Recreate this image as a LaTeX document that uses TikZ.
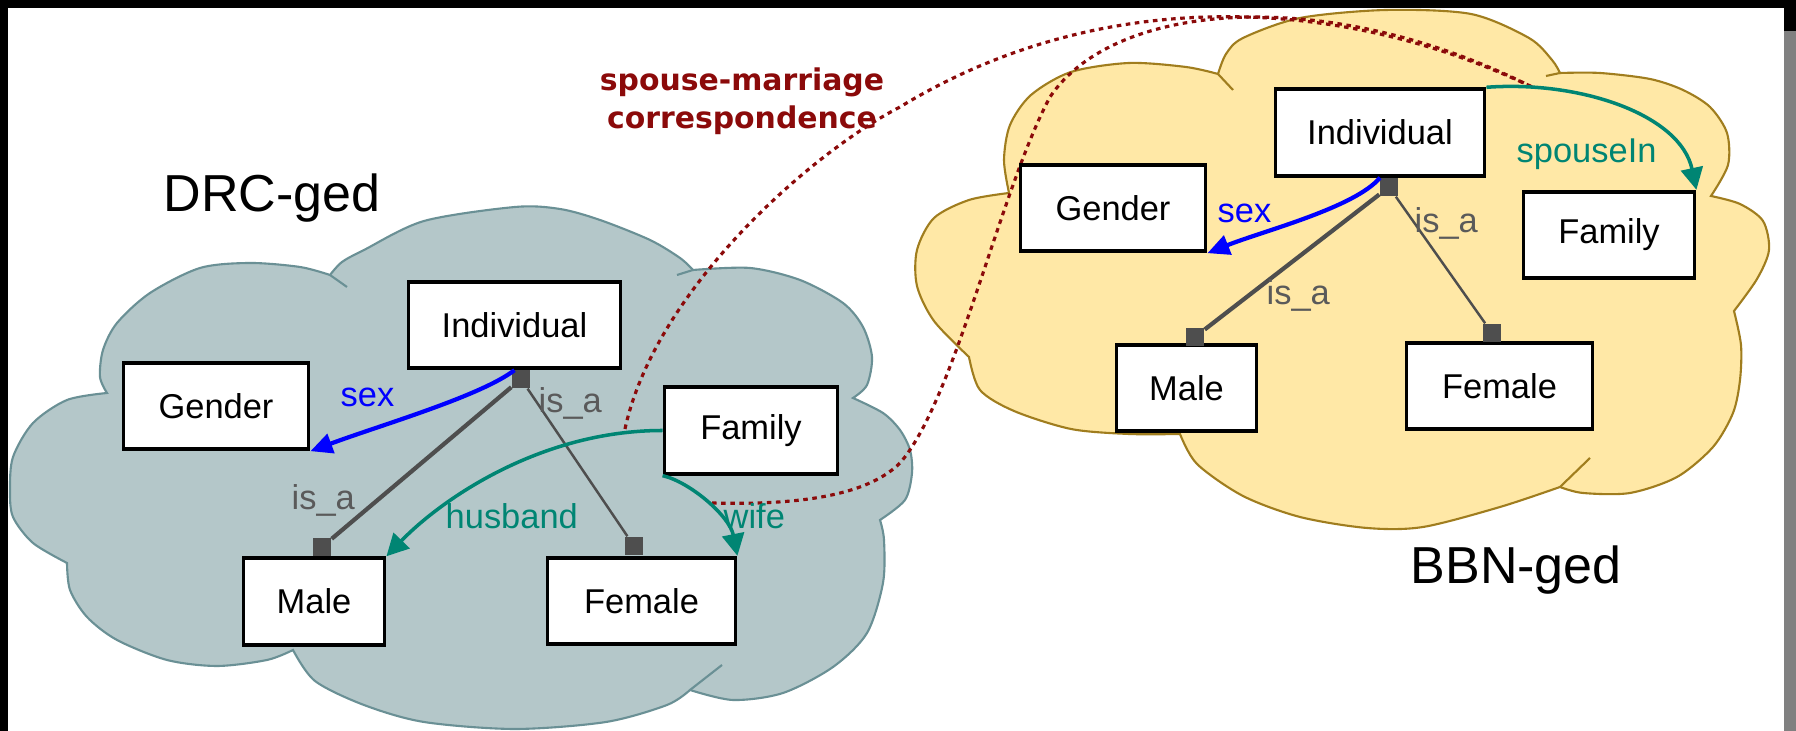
\documentclass[tikz,border=0pt]{standalone}
\usepackage{fontspec}
\setmainfont{Liberation Sans}
\newfontfamily\corrfont{DejaVu Sans}
\usetikzlibrary{arrows.meta}

\definecolor{drcfill}{HTML}{B4C7C9}
\definecolor{drcline}{HTML}{6A9095}
\definecolor{bbnfill}{HTML}{FFE8A6}
\definecolor{bbnline}{HTML}{A07D1E}
\definecolor{relteal}{HTML}{008573}
\definecolor{isagrey}{HTML}{4E4E4E}
\definecolor{labgrey}{HTML}{5A5A5A}
\definecolor{corrred}{HTML}{8B0A0A}
\definecolor{framegrey}{HTML}{808080}

\tikzset{
  cls/.style={draw=black, line width=1.1pt, fill=white, minimum height=8.65mm,
    inner sep=0pt, font=\fontsize{9.8}{12}\selectfont},
  mk/.style={fill=isagrey, minimum size=1.8mm, inner sep=0pt},
  isathick/.style={draw=isagrey, line width=1.2pt},
  isathin/.style={draw=isagrey, line width=0.7pt},
  sexarrow/.style={draw=blue, line width=1.2pt, -{Triangle[length=2.2mm,width=2mm]}},
  relarrow/.style={draw=relteal, line width=1pt, -{Triangle[length=2.2mm,width=2.2mm]}},
  corr/.style={draw=corrred, line width=0.9pt, dash pattern=on 1.3pt off 1.3pt},
  lab/.style={font=\fontsize{9.8}{12}\selectfont, inner sep=0pt, anchor=base west},
  ontotitle/.style={font=\fontsize{14.8}{18}\selectfont, inner sep=0pt, anchor=base west},
  drccloud/.style={fill=drcfill, draw=drcline, line width=0.6pt},
  bbncloud/.style={fill=bbnfill, draw=bbnline, line width=0.6pt},
}

\begin{document}
\begin{tikzpicture}[x=0.1mm, y=-0.1mm]
\useasboundingbox (0,0) rectangle (1796,731);
\fill[white] (0,0) rectangle (1796,731);

% DRC-ged ontology cloud
\path[drccloud]
  plot[smooth] coordinates {(107,393) (100,377) (103,350) (117,323) (150,293) (200,268) (250,263) (300,267) (330,275)}
  -- plot[smooth] coordinates {(330,275) (342,262) (364,250) (424,221) (515,207) (560,209) (600,220) (650,240) (680,258) (693,270)}
  -- plot[smooth] coordinates {(693,270) (750,268) (800,280) (843,303) (863,327) (872,357) (867,385) (853,398)}
  -- plot[smooth] coordinates {(853,398) (883,413) (900,430) (910,450) (912,473) (905,500) (880,520)}
  -- plot[smooth] coordinates {(880,520) (884,540) (883,583) (867,633) (833,667) (783,693) (733,700) (690,690)}
  -- plot[smooth] coordinates {(690,690) (667,705) (606,722) (515,729) (424,722) (364,705) (315,681) (293,650)}
  -- plot[smooth] coordinates {(293,650) (267,660) (217,666) (167,660) (117,640) (87,617) (70,590) (67,563)}
  -- plot[smooth] coordinates {(67,563) (33,543) (13,517) (10,490) (13,457) (33,423) (67,400) (107,393)}
  -- cycle;
\draw[drcline, line width=0.6pt] (330,275) -- (347,287);
\draw[drcline, line width=0.6pt] (693,270) -- (677,275);
\draw[drcline, line width=0.6pt] (690,690) -- (722,665);

% BBN-ged ontology cloud
\path[bbncloud]
  plot[smooth] coordinates {(1009,193) (1004,160) (1010,125) (1031,95) (1071,72) (1129,63) (1186,67) (1218,74)}
  -- plot[smooth] coordinates {(1218,74) (1226,54) (1243,38) (1300,18) (1386,10) (1471,14) (1529,38) (1552,60) (1560,73)}
  -- plot[smooth] coordinates {(1560,73) (1600,73) (1650,79) (1683,90) (1710,107) (1727,133) (1728,165) (1711,196)}
  -- plot[smooth] coordinates {(1711,196) (1740,204) (1763,221) (1769,250) (1757,279) (1734,311)}
  -- plot[smooth] coordinates {(1734,311) (1741,345) (1740,380) (1733,413) (1713,447) (1677,477) (1630,493) (1583,493) (1560,487)}
  -- plot[smooth] coordinates {(1560,487) (1500,507) (1423,527) (1367,528) (1300,517) (1243,496) (1197,464) (1180,434)}
  -- plot[smooth] coordinates {(1180,434) (1129,434) (1071,429) (1014,411) (980,390) (969,357)}
  -- plot[smooth] coordinates {(969,357) (934,321) (917,286) (917,250) (934,218) (969,200) (1009,193)}
  -- cycle;
\draw[bbnline, line width=0.6pt] (1218,74) -- (1233,90);
\draw[bbnline, line width=0.6pt] (1560,73) -- (1546,76);
\draw[bbnline, line width=0.6pt] (1560,487) -- (1590,458);

% correspondence between husband/wife and spouseIn
\coordinate (hA) at (625,429);
\coordinate (wB) at (712,503);
\coordinate (sE) at (1532,87);
\draw[corr] (hA) .. controls (655,290) and (811,153) .. (900,107)
  .. controls (1100,-15) and (1340,-5) .. (sE);
\draw[corr] (wB) .. controls (790,505) and (865,498) .. (900,463)
  .. controls (955,400) and (1000,190) .. (1050,97)
  .. controls (1115,0) and (1330,-15) .. (sE);

% DRC-ged classes
\node[cls, minimum width=18.5mm] (gL) at (216,406) {Gender};
\node[cls, minimum width=21.2mm] (iL) at (514.5,325) {Individual};
\node[cls, minimum width=17.3mm] (fL) at (751,430.5) {Family};
\node[cls, minimum width=14.1mm] (mL) at (314,601.5) {Male};
\node[cls, minimum width=18.8mm] (feL) at (641.5,601) {Female};

% BBN-ged classes
\node[cls, minimum width=18.5mm] (gR) at (1113,208) {Gender};
\node[cls, minimum width=20.9mm] (iR) at (1380,132.5) {Individual};
\node[cls, minimum width=17.1mm] (fR) at (1609,235) {Family};
\node[cls, minimum width=14.0mm] (mR) at (1186.5,388) {Male};
\node[cls, minimum width=18.6mm] (feR) at (1499.5,386) {Female};

% is_a end markers
\node[mk] (kiL) at (521,379) {};
\node[mk] (kmL) at (322,547) {};
\node[mk] (kfL) at (634,546) {};
\node[mk] (kiR) at (1389,187) {};
\node[mk] (kmR) at (1195,337) {};
\node[mk] (kfR) at (1492,333) {};

% is_a relations
\draw[isathick] (kiL) -- (kmL);
\draw[isathin] (kiL) -- (kfL);
\draw[isathick] (kiR) -- (kmR);
\draw[isathin] (kiR) -- (kfR);

% properties
\draw[sexarrow] (iL.south) .. controls +(-34,26) and +(70,-26) .. (gL.south east);
\draw[sexarrow] (iR.south) .. controls +(-25,30) and +(55,-22) .. (gR.south east);
\draw[relarrow] (fL.west) .. controls +(-123,0) and +(54,-56) .. (mL.north east);
\draw[relarrow] (fL.south west) .. controls +(27,6) and +(-8,-40) .. (feL.north east);
\draw[relarrow] (iR.north east) .. controls +(94,-7) and +(-16,-75) .. (fR.north east);

% edge labels
\node[lab, text=blue] (sxL) at (340,407) {sex};
\node[lab, text=labgrey] (iaL1) at (538,413) {is\_a};
\node[lab, text=labgrey] (iaL2) at (291,510) {is\_a};
\node[lab, text=relteal] (hbL) at (445,529) {husband};
\node[lab, text=relteal] (wfL) at (723,529) {wife};
\node[lab, text=blue] (sxR) at (1217,223) {sex};
\node[lab, text=labgrey] (iaR1) at (1414,233) {is\_a};
\node[lab, text=labgrey] (iaR2) at (1266,305) {is\_a};
\node[lab, text=relteal] (spR) at (1516,163) {spouseIn};

% ontology names
\node[ontotitle] (drc) at (163,212) {DRC-ged};
\node[ontotitle] (bbn) at (1410,584) {BBN-ged};

% correspondence label
\node[font=\corrfont\bfseries\fontsize{8.5}{10.8}\selectfont, text=corrred,
  align=center, inner sep=0pt] (corrlab) at (742,101) {spouse-marriage\\correspondence};

% window frame
\fill[black] (0,0) rectangle (1796,8);
\fill[black] (0,0) rectangle (8,731);
\fill[black] (1784,0) rectangle (1796,31);
\fill[framegrey] (1784,31) rectangle (1796,731);
\end{tikzpicture}
\end{document}
